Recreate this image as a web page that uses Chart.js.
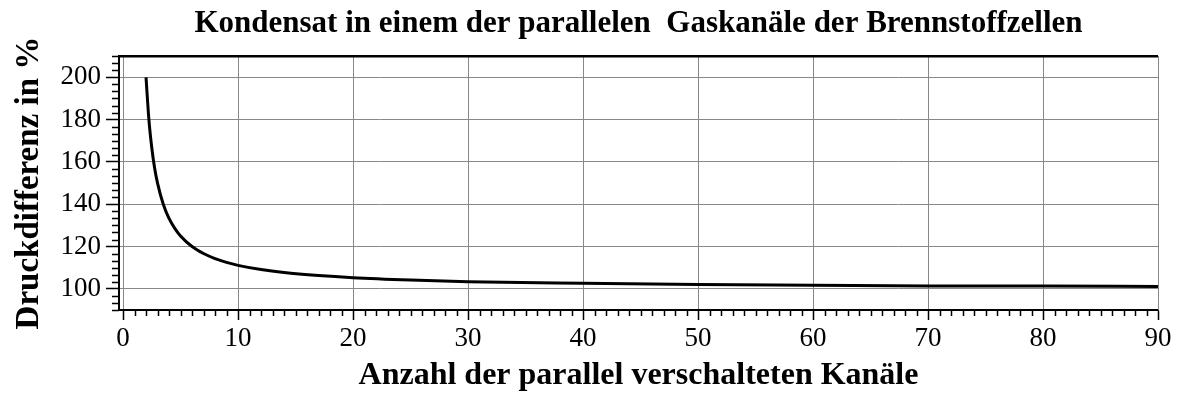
<!DOCTYPE html>
<html>
<head>
<meta charset="utf-8">
<script src="https://cdn.jsdelivr.net/npm/chart.js@4/dist/chart.umd.min.js"></script>
<style>
    html, body { margin: 0; padding: 0; background: #fff; }
    canvas { display: block; }
</style>
</head>
<body>
<canvas id="chart" width="1178" height="395"></canvas>
<script>
// Anzahl der Kanäle und zugehörige Druckdifferenz in %
const channels = [2, 2.25, 2.5, 2.75, 3, 3.5, 4, 4.5, 5, 6, 7, 8, 9, 10, 12, 14, 17, 20, 25, 30, 40, 50, 60, 70, 80, 90];
const pressureDiff = [200, 180, 166.7, 157, 150, 140, 133.3, 128.6, 125, 120, 116.7, 114.3, 112.5, 111.1, 109.1, 107.7, 106.3, 105.3, 104.2, 103.4, 102.6, 102, 101.7, 101.4, 101.3, 101.1];

const xTicks = [0, 10, 20, 30, 40, 50, 60, 70, 80, 90];
const yTicks = [100, 120, 140, 160, 180, 200];

const serif = "'Liberation Serif', 'Times New Roman', serif";

// short minor ticks on the axes plus the black top frame line
const frameTicks = {
    id: 'frameTicks',
    afterDraw(chart) {
        const { ctx, chartArea: a, scales: { x, y } } = chart;
        ctx.save();
        ctx.strokeStyle = '#000';
        ctx.lineWidth = 1.5;
        ctx.beginPath();
        for (let i = 1; i < 90; i++) {
            if (i % 10 === 0) continue;
            const px = Math.round(x.getPixelForValue(i)) + 0.5;
            ctx.moveTo(px, a.bottom);
            ctx.lineTo(px, a.bottom + 6);
        }
        for (let k = -3; k <= 33; k++) {
            if (k % 6 === 0) continue;
            const py = Math.round(y.getPixelForValue(100 + k * 20 / 6)) + 0.5;
            ctx.moveTo(a.left, py);
            ctx.lineTo(a.left - 7, py);
        }
        ctx.stroke();

        ctx.lineWidth = 2.5;
        ctx.beginPath();
        ctx.moveTo(a.left - 1, a.top);
        ctx.lineTo(a.right, a.top);
        ctx.stroke();

        ctx.strokeStyle = '#888';
        ctx.lineWidth = 1;
        ctx.beginPath();
        ctx.moveTo(a.right + 0.5, a.top);
        ctx.lineTo(a.right + 0.5, a.bottom);
        ctx.stroke();
        ctx.restore();
    }
};

new Chart(document.getElementById('chart'), {
    type: 'line',
    data: {
        datasets: [{
            data: channels.map((n, i) => ({ x: n, y: pressureDiff[i] })),
            borderColor: '#000',
            borderWidth: 3,
            pointRadius: 0,
            fill: false,
            cubicInterpolationMode: 'monotone',
        }],
    },
    options: {
        responsive: false,
        animation: false,
        layout: { padding: { left: 0, right: 20, top: 0, bottom: 0 } },
        plugins: {
            legend: { display: false },
            tooltip: { enabled: false },
            title: {
                display: true,
                fullSize: false,
                text: 'Kondensat in einem der parallelen  Gaskanäle der Brennstoffzellen',
                color: '#000',
                font: { family: serif, size: 31, weight: 'bold' },
                padding: { top: 5, bottom: 14 },
            },
        },
        scales: {
            x: {
                type: 'linear',
                min: -0.35,
                max: 90,
                afterBuildTicks: (scale) => { scale.ticks = xTicks.map((v) => ({ value: v })); },
                afterFit: (scale) => { scale.height = 85; },
                grid: { color: '#888', lineWidth: 1, tickColor: '#000', tickLength: 10, tickWidth: 1.5 },
                border: { display: true, color: '#000', width: 2 },
                ticks: { color: '#000', padding: 3, maxRotation: 0, font: { family: serif, size: 27 } },
                title: {
                    display: true,
                    text: 'Anzahl der parallel verschalteten Kanäle',
                    color: '#000',
                    font: { family: serif, size: 32, weight: 'bold' },
                    padding: { top: 0, bottom: 0 },
                },
            },
            y: {
                min: 90,
                max: 210,
                afterBuildTicks: (scale) => { scale.ticks = yTicks.map((v) => ({ value: v })); },
                afterFit: (scale) => { scale.width = 119; },
                grid: { color: '#888', lineWidth: 1, tickColor: '#000', tickLength: 13, tickWidth: 1.5 },
                border: { display: true, color: '#000', width: 2 },
                ticks: { color: '#000', padding: 5, font: { family: serif, size: 27 } },
                title: {
                    display: true,
                    text: 'Druckdifferenz in %',
                    color: '#000',
                    font: { family: serif, size: 33, weight: 'bold' },
                    padding: { top: 10, bottom: 0 },
                },
            },
        },
    },
    plugins: [frameTicks],
});
</script>
</body>
</html>
